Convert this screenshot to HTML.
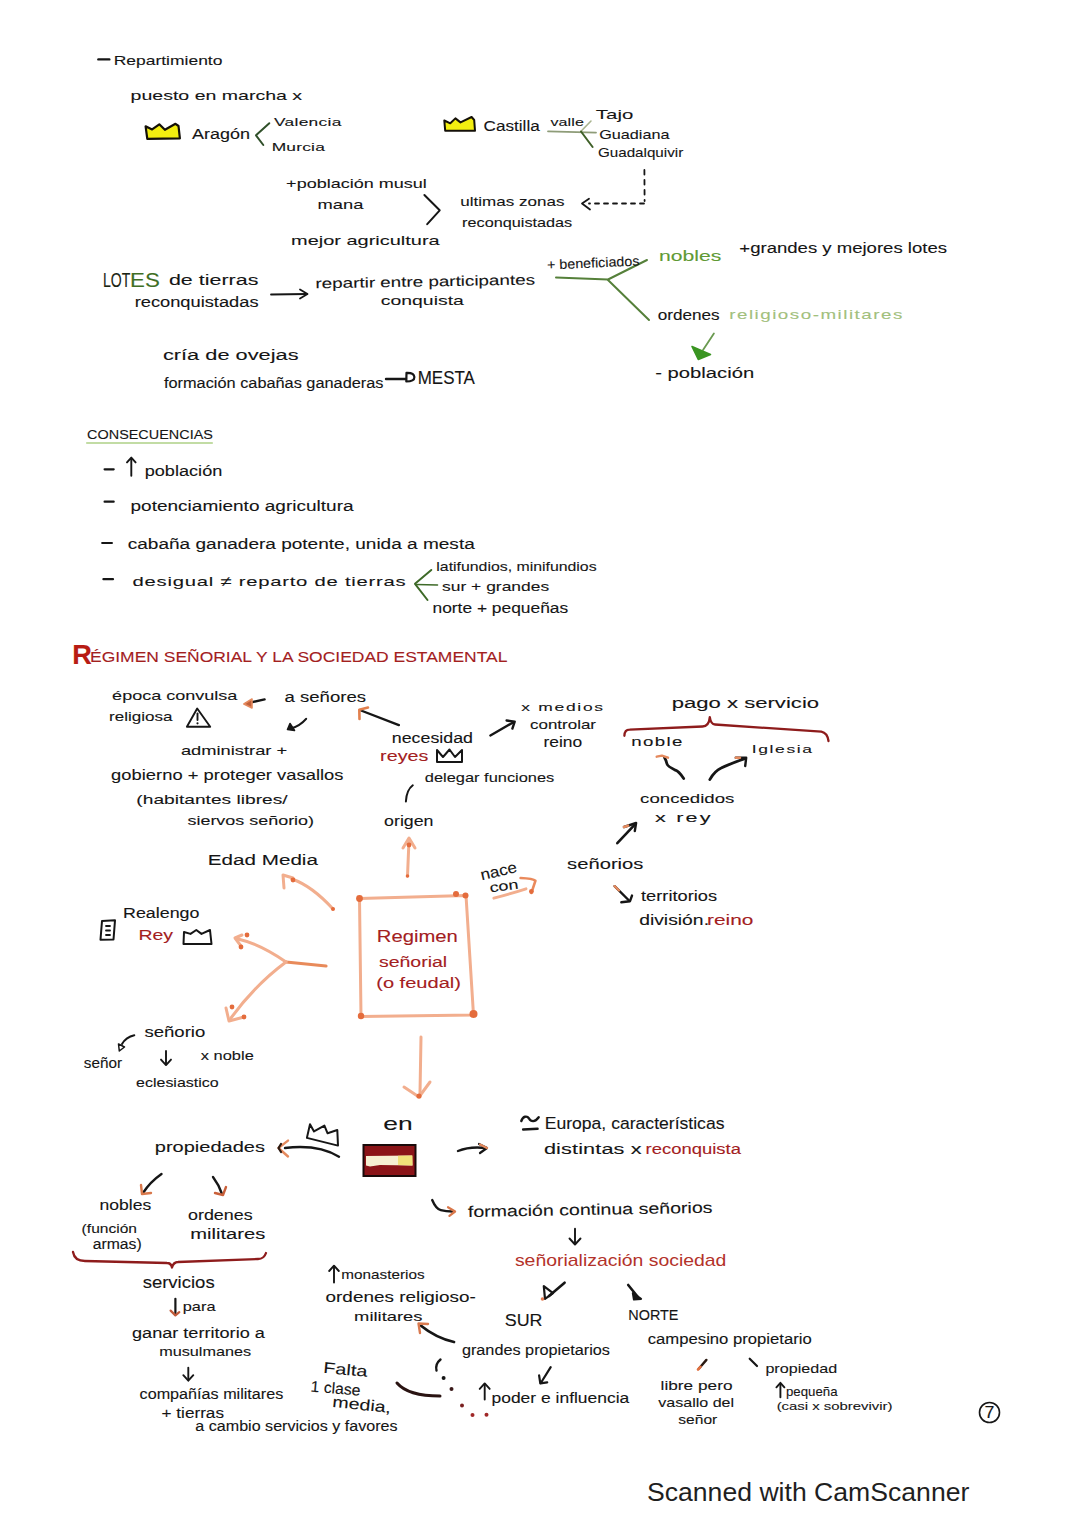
<!DOCTYPE html>
<html><head><meta charset="utf-8"><title>Notas</title>
<style>
html,body{margin:0;padding:0;background:#fff;}
body{width:1080px;height:1528px;position:relative;overflow:hidden;font-family:"Liberation Sans", sans-serif;}
.t{position:absolute;left:0;top:0;font-size:40px;line-height:1;white-space:pre;transform-origin:0 0;}
.cs{position:absolute;left:648px;top:1476px;font-size:27.5px;color:#222;white-space:pre;line-height:1;}
svg{position:absolute;left:0;top:0;}
</style></head><body>
<svg width="1080" height="1528" viewBox="0 0 1080 1528">
<path d="M145.6,126.3 L152.1,129.4 L159.3,124.3 L164.9,129.8 L175.5,123.8 L178.5,126 L179.9,138.4 L147.3,138.8 Z" stroke="#141008" stroke-width="2.2" fill="#f3ee10" stroke-linecap="round" stroke-linejoin="round" />
<path d="M444.3,120.5 L450.3,123.3 L455.4,118.4 L460.5,122.4 L471.6,117 L474.2,120 L475,130.7 L445.2,130.7 Z" stroke="#141008" stroke-width="2.0" fill="#f3ee10" stroke-linecap="round" stroke-linejoin="round" />
<path d="M269.3,123.2 L256.0,135.3 L263.3,145.0" stroke="#30502a" stroke-width="2" fill="none" stroke-linecap="round" stroke-linejoin="round" />
<path d="M548.0,131.3 L596.0,132.6" stroke="#8e9c78" stroke-width="1.8" fill="none" stroke-linecap="round" stroke-linejoin="round" />
<path d="M581.0,131.2 L591.0,121.0" stroke="#a9b48f" stroke-width="1.6" fill="none" stroke-linecap="round" stroke-linejoin="round" />
<path d="M581.0,131.5 L592.6,147.0" stroke="#3f6028" stroke-width="2" fill="none" stroke-linecap="round" stroke-linejoin="round" />
<path d="M644.4,170.0 L644.6,201.0" stroke="#161616" stroke-width="1.8" fill="none" stroke-linecap="round" stroke-linejoin="round" stroke-dasharray="4.5 5.5"/>
<path d="M644.0,203.5 L589.0,203.5" stroke="#161616" stroke-width="1.8" fill="none" stroke-linecap="round" stroke-linejoin="round" stroke-dasharray="4 5"/>
<path d="M589.0,198.7 L582.0,203.5 L590.0,209.5" stroke="#161616" stroke-width="1.8" fill="none" stroke-linecap="round" stroke-linejoin="round" />
<path d="M424.4,195.0 L439.7,210.3 L427.2,224.2" stroke="#161616" stroke-width="2" fill="none" stroke-linecap="round" stroke-linejoin="round" />
<path d="M271.0,294.5 L307.0,294.0" stroke="#161616" stroke-width="1.8" fill="none" stroke-linecap="round" stroke-linejoin="round" />
<path d="M300.0,289.5 L307.5,294.0 L300.0,298.5" stroke="#161616" stroke-width="1.8" fill="none" stroke-linecap="round" stroke-linejoin="round" />
<path d="M556.0,277.5 L608.0,279.5 L647.0,260.0" stroke="#55803a" stroke-width="2" fill="none" stroke-linecap="round" stroke-linejoin="round" />
<path d="M608.0,280.0 L649.0,320.0" stroke="#55803a" stroke-width="2" fill="none" stroke-linecap="round" stroke-linejoin="round" />
<path d="M713.9,333.4 L703.0,350.0" stroke="#6a9a50" stroke-width="1.8" fill="none" stroke-linecap="round" stroke-linejoin="round" />
<path d="M692,346.5 L710.5,354.5 L698.3,359.4 Z" stroke="#3a9522" stroke-width="1.6" fill="#3a9522" stroke-linecap="round" stroke-linejoin="round" />
<path d="M87.0,443.0 L212.0,443.0" stroke="#c2dca4" stroke-width="2.2" fill="none" stroke-linecap="round" stroke-linejoin="round" />
<path d="M431.3,570.0 L415.0,583.8 L427.5,600.0" stroke="#3e6a28" stroke-width="2" fill="none" stroke-linecap="round" stroke-linejoin="round" />
<path d="M416.0,584.5 L437.5,585.0" stroke="#3e6a28" stroke-width="1.6" fill="none" stroke-linecap="round" stroke-linejoin="round" />
<path d="M197.2,708.5 L210.2,726.7 L186.9,726.7 Z" stroke="#161616" stroke-width="1.9" fill="none" stroke-linecap="round" stroke-linejoin="round" />
<path d="M197.5,713.5 L197.5,720.0" stroke="#161616" stroke-width="1.9" fill="none" stroke-linecap="round" stroke-linejoin="round" />
<circle cx="197.5" cy="723.3" r="1.1" fill="#161616"/>
<path d="M264.6,699.4 L246.0,703.6" stroke="#161616" stroke-width="2.4" fill="none" stroke-linecap="round" stroke-linejoin="round" />
<path d="M252,699 L243.9,704 L252,708 Z" stroke="#e58a5e" stroke-width="1.6" fill="#c0603a" stroke-linecap="round" stroke-linejoin="round" />
<path d="M306.1,718.9 Q300,726 291,728.5" stroke="#161616" stroke-width="2.2" fill="none" stroke-linecap="round" stroke-linejoin="round" />
<path d="M287.5,729.5 L290,723.5 L294.5,730.5 Z" stroke="#161616" stroke-width="1.6" fill="#161616" stroke-linecap="round" stroke-linejoin="round" />
<path d="M398.9,725.1 L361.0,710.5" stroke="#161616" stroke-width="2.4" fill="none" stroke-linecap="round" stroke-linejoin="round" />
<path d="M359.5,719.0 L359.3,709.8 L368.0,707.5" stroke="#e2804e" stroke-width="2.6" fill="none" stroke-linecap="round" stroke-linejoin="round" />
<path d="M490.4,735.5 L513.5,722.2" stroke="#161616" stroke-width="2.4" fill="none" stroke-linecap="round" stroke-linejoin="round" />
<path d="M506.6,720.5 L514.7,721.6 L512.4,728.6" stroke="#161616" stroke-width="2.4" fill="none" stroke-linecap="round" stroke-linejoin="round" />
<path d="M412.8,785.3 Q406.5,790 405.9,801.5" stroke="#161616" stroke-width="2" fill="none" stroke-linecap="round" stroke-linejoin="round" />
<path d="M624.4,735.8 C624.5,731.5 626.5,729.6 629.6,729.6 L702.5,726.5 C707,726.3 709.3,723 709.8,717.1 C710.5,722 711.5,724.4 715,724.5 L821.3,731.7 C825.5,732.5 827.8,736 828.5,741" stroke="#8e1c1c" stroke-width="2.3" fill="none" stroke-linecap="round" stroke-linejoin="round" />
<path d="M683.7,778.5 C680,773 678,771 675.4,770.2 C671,768 667.5,766 667,764 C666.5,762 666,760 664.5,757.5" stroke="#161616" stroke-width="2.8" fill="none" stroke-linecap="round" stroke-linejoin="round" />
<path d="M656.7,756.7 L661.9,755.6 L668.0,757.7" stroke="#e58a5e" stroke-width="2.4" fill="none" stroke-linecap="round" stroke-linejoin="round" />
<path d="M709.8,779.6 C713,774 716,770.5 721.2,768.1 C729,764 738,761 745.5,758.5" stroke="#161616" stroke-width="2.8" fill="none" stroke-linecap="round" stroke-linejoin="round" />
<path d="M735.8,757.7 L746.2,757.7 L745.2,766.0" stroke="#161616" stroke-width="2.4" fill="none" stroke-linecap="round" stroke-linejoin="round" />
<path d="M735.8,757.7 L740.0,757.7" stroke="#e58a5e" stroke-width="2.4" fill="none" stroke-linecap="round" stroke-linejoin="round" />
<path d="M617.3,843.2 L635.5,823.8" stroke="#161616" stroke-width="2.6" fill="none" stroke-linecap="round" stroke-linejoin="round" />
<path d="M624.0,827.0 L636.1,823.0 L634.8,831.0" stroke="#161616" stroke-width="2.4" fill="none" stroke-linecap="round" stroke-linejoin="round" />
<path d="M624.0,827.0 L628.0,825.7" stroke="#e58a5e" stroke-width="2.6" fill="none" stroke-linecap="round" stroke-linejoin="round" />
<path d="M493.8,898.2 Q510,894 526,888.8" stroke="#f2ae8e" stroke-width="2.8" fill="none" stroke-linecap="round" stroke-linejoin="round" />
<path d="M520.6,878 Q533,878.5 535.4,880.8 L531.4,892.9" stroke="#ea8a5c" stroke-width="2.6" fill="none" stroke-linecap="round" stroke-linejoin="round" />
<circle cx="531.4" cy="891.5" r="2.4" fill="#e46c3c"/>
<path d="M614.6,886.2 L629.0,900.5" stroke="#161616" stroke-width="2.4" fill="none" stroke-linecap="round" stroke-linejoin="round" />
<path d="M621.3,902.3 L630.0,901.2 L632.0,895.6" stroke="#161616" stroke-width="2.4" fill="none" stroke-linecap="round" stroke-linejoin="round" />
<path d="M614.6,886.2 L619.0,890.5" stroke="#e58a5e" stroke-width="2.4" fill="none" stroke-linecap="round" stroke-linejoin="round" />
<path d="M359.5,898.5 L466,895.5 L473.5,1015 L361,1016.5 Z" stroke="#f2ae8e" stroke-width="3" fill="none" stroke-linecap="round" stroke-linejoin="round" />
<circle cx="359.5" cy="898.5" r="3.4" fill="#e46c3c"/>
<circle cx="456" cy="894" r="3" fill="#e46c3c"/>
<circle cx="465.5" cy="895.5" r="3" fill="#e46c3c"/>
<circle cx="473.5" cy="1014" r="4" fill="#e46c3c"/>
<circle cx="361" cy="1016" r="3.2" fill="#e46c3c"/>
<path d="M407.5,876.0 L409.0,840.0" stroke="#f2ae8e" stroke-width="3" fill="none" stroke-linecap="round" stroke-linejoin="round" />
<path d="M403.0,848.0 L409.0,838.0 L415.0,848.0" stroke="#f2ae8e" stroke-width="3" fill="none" stroke-linecap="round" stroke-linejoin="round" />
<circle cx="409" cy="845" r="2.4" fill="#e46c3c"/>
<circle cx="407.5" cy="876" r="1.8" fill="#e46c3c"/>
<path d="M333,909 Q312,886 292,879" stroke="#f2ae8e" stroke-width="3" fill="none" stroke-linecap="round" stroke-linejoin="round" />
<path d="M284.0,888.0 L283.0,875.0 L293.0,878.0" stroke="#f2ae8e" stroke-width="3" fill="none" stroke-linecap="round" stroke-linejoin="round" />
<circle cx="293" cy="880" r="2.4" fill="#e46c3c"/>
<circle cx="333" cy="909" r="2" fill="#e46c3c"/>
<path d="M326.0,966.0 L286.0,962.0" stroke="#e88a5a" stroke-width="3.2" fill="none" stroke-linecap="round" stroke-linejoin="round" />
<path d="M286,962 Q260,944 238,939" stroke="#f2ae8e" stroke-width="3" fill="none" stroke-linecap="round" stroke-linejoin="round" />
<path d="M286,962 Q255,985 231,1018" stroke="#f2ae8e" stroke-width="3" fill="none" stroke-linecap="round" stroke-linejoin="round" />
<path d="M242.0,935.0 L235.0,938.0 L241.0,946.0" stroke="#f2ae8e" stroke-width="3" fill="none" stroke-linecap="round" stroke-linejoin="round" />
<circle cx="241" cy="947" r="2.4" fill="#e46c3c"/>
<circle cx="247" cy="935" r="2.4" fill="#e46c3c"/>
<path d="M226.0,1008.0 L229.0,1021.0 L244.0,1017.0" stroke="#f2ae8e" stroke-width="3" fill="none" stroke-linecap="round" stroke-linejoin="round" />
<circle cx="244" cy="1017" r="2.4" fill="#e46c3c"/>
<circle cx="232" cy="1007" r="2.4" fill="#e46c3c"/>
<path d="M102,921 L115,920.3 L113.5,939.5 L100.5,939.7 Z" stroke="#161616" stroke-width="2" fill="none" stroke-linecap="round" stroke-linejoin="round" />
<path d="M106.0,926.0 L110.0,926.0" stroke="#161616" stroke-width="1.8" fill="none" stroke-linecap="round" stroke-linejoin="round" />
<path d="M106.0,930.5 L110.0,930.5" stroke="#161616" stroke-width="1.8" fill="none" stroke-linecap="round" stroke-linejoin="round" />
<path d="M106.0,935.0 L110.0,935.0" stroke="#161616" stroke-width="1.8" fill="none" stroke-linecap="round" stroke-linejoin="round" />
<path d="M437,762 L437,750 L443,757 L449.5,749.5 L455,757 L462,750 L462,762 Z" stroke="#161616" stroke-width="2" fill="none" stroke-linecap="round" stroke-linejoin="round" />
<path d="M183.5,944 L184,932 L190.5,933.9 L196.3,930 L201.5,933.9 L210,930 L211.5,944 Z" stroke="#161616" stroke-width="2" fill="none" stroke-linecap="round" stroke-linejoin="round" />
<path d="M306.9,1137.9 L310,1124.3 L314,1131.4 L324.4,1125.6 L327.6,1133.3 L337.3,1130 L338,1145.6 Z" stroke="#161616" stroke-width="2" fill="none" stroke-linecap="round" stroke-linejoin="round" />
<path d="M134.3,1035.2 Q126,1037 122,1044" stroke="#161616" stroke-width="2" fill="none" stroke-linecap="round" stroke-linejoin="round" />
<path d="M119.3,1051 L118.5,1044 L124.5,1047 Z" stroke="#161616" stroke-width="1.5" fill="none" stroke-linecap="round" stroke-linejoin="round" />
<path d="M421.0,1037.0 L420.0,1093.0" stroke="#f2ae8e" stroke-width="3" fill="none" stroke-linecap="round" stroke-linejoin="round" />
<path d="M404.0,1087.0 L419.0,1097.0 L430.0,1082.0" stroke="#f2ae8e" stroke-width="3" fill="none" stroke-linecap="round" stroke-linejoin="round" />
<circle cx="419" cy="1096" r="2.6" fill="#e46c3c"/>
<rect x="363.5" y="1145" width="52" height="31" fill="#8b1418" stroke="#1a0a0a" stroke-width="2"/>
<path d="M366,1156 L412,1155.5 L412.5,1165.5 L380,1165 L370,1166.5 L366,1165.5 Z" fill="#f6f0d2"/>
<path d="M398,1155.7 L412.5,1155.5 L412.5,1165.5 L398,1165 Z" fill="#f1e27a"/>
<path d="M339,1156.7 Q318,1144 285,1148" stroke="#161616" stroke-width="2.4" fill="none" stroke-linecap="round" stroke-linejoin="round" />
<path d="M288.0,1140.6 L278.5,1148.0 L288.0,1156.5" stroke="#e58a5e" stroke-width="2.4" fill="none" stroke-linecap="round" stroke-linejoin="round" />
<path d="M281.0,1144.0 L278.5,1148.0 L281.0,1152.0" stroke="#2a1a12" stroke-width="2.2" fill="none" stroke-linecap="round" stroke-linejoin="round" />
<path d="M458,1151 Q470,1146 486,1148" stroke="#161616" stroke-width="2.4" fill="none" stroke-linecap="round" stroke-linejoin="round" />
<path d="M479.0,1144.0 L487.0,1148.0 L480.0,1153.0" stroke="#161616" stroke-width="2.2" fill="none" stroke-linecap="round" stroke-linejoin="round" />
<path d="M480.0,1144.5 L487.0,1148.0" stroke="#e58a5e" stroke-width="2.2" fill="none" stroke-linecap="round" stroke-linejoin="round" />
<path d="M161.5,1174 Q150,1182 143,1193" stroke="#161616" stroke-width="2.4" fill="none" stroke-linecap="round" stroke-linejoin="round" />
<path d="M141.0,1185.0 L142.0,1194.0 L151.0,1193.0" stroke="#d9774a" stroke-width="2.4" fill="none" stroke-linecap="round" stroke-linejoin="round" />
<path d="M213,1177 Q219,1185 222,1194" stroke="#161616" stroke-width="2.4" fill="none" stroke-linecap="round" stroke-linejoin="round" />
<path d="M215.0,1193.0 L223.0,1195.0 L226.0,1187.0" stroke="#c9603a" stroke-width="2.4" fill="none" stroke-linecap="round" stroke-linejoin="round" />
<path d="M73,1252 C74,1258 78,1261 85,1261 L167,1263 C170,1263 171.5,1265 172,1267.5 C173,1264 175,1262 178,1262 L258,1259 C263,1259 265,1256 266,1253" stroke="#8e1c1c" stroke-width="2.3" fill="none" stroke-linecap="round" stroke-linejoin="round" />
<path d="M175.4,1298.8 L175.4,1314.5" stroke="#161616" stroke-width="2.2" fill="none" stroke-linecap="round" stroke-linejoin="round" />
<path d="M170.6,1310.6 L175.4,1315.4 L179.3,1312.2" stroke="#c05a3a" stroke-width="2.2" fill="none" stroke-linecap="round" stroke-linejoin="round" />
<path d="M454,1342 Q436,1338 420,1325" stroke="#161616" stroke-width="2.8" fill="none" stroke-linecap="round" stroke-linejoin="round" />
<path d="M420.0,1333.0 L418.5,1323.5 L428.0,1324.0" stroke="#d97a50" stroke-width="2.4" fill="none" stroke-linecap="round" stroke-linejoin="round" />
<path d="M397,1383 Q408,1396 440,1396" stroke="#2a1412" stroke-width="3" fill="none" stroke-linecap="round" stroke-linejoin="round" />
<path d="M440.5,1359.5 Q435,1364 436.5,1370.5" stroke="#161616" stroke-width="2.4" fill="none" stroke-linecap="round" stroke-linejoin="round" />
<circle cx="443.6" cy="1378" r="2.0" fill="#161616"/>
<circle cx="451.5" cy="1389" r="2.0" fill="#3a1a1a"/>
<circle cx="462" cy="1405.5" r="2.0" fill="#7a2020"/>
<circle cx="472.5" cy="1415" r="2.0" fill="#a02828"/>
<circle cx="486.5" cy="1414.7" r="2.0" fill="#a02828"/>
<path d="M432.2,1200 Q436,1209 440.8,1210.1 Q446,1211.5 452.3,1211.5" stroke="#161616" stroke-width="2.4" fill="none" stroke-linecap="round" stroke-linejoin="round" />
<path d="M448.0,1207.2 L455.1,1211.5 L449.4,1215.8" stroke="#d9774a" stroke-width="2.2" fill="none" stroke-linecap="round" stroke-linejoin="round" />
<path d="M564.6,1282.7 L549.0,1296.0" stroke="#161616" stroke-width="2.6" fill="none" stroke-linecap="round" stroke-linejoin="round" />
<path d="M543.8,1286.2 L545,1298.9 L553,1293.1 Z" stroke="#161616" stroke-width="2.2" fill="none" stroke-linecap="round" stroke-linejoin="round" />
<circle cx="542.5" cy="1299" r="1.8" fill="#e07a50"/>
<path d="M628.2,1285.0 L637.5,1296.5" stroke="#161616" stroke-width="2.6" fill="none" stroke-linecap="round" stroke-linejoin="round" />
<path d="M632.9,1293.1 L641,1298.9 L634,1299.5 Z" stroke="#161616" stroke-width="2.2" fill="#161616" stroke-linecap="round" stroke-linejoin="round" />
<path d="M550.7,1367.2 L540.8,1383.0" stroke="#161616" stroke-width="2.2" fill="none" stroke-linecap="round" stroke-linejoin="round" />
<path d="M539.1,1375.3 L540.3,1383.4 L547.2,1382.3" stroke="#161616" stroke-width="2.2" fill="none" stroke-linecap="round" stroke-linejoin="round" />
<path d="M706.4,1359.9 L699.0,1368.5" stroke="#2a1a12" stroke-width="2.4" fill="none" stroke-linecap="round" stroke-linejoin="round" />
<path d="M700.5,1366.8 L698.0,1369.5" stroke="#e07040" stroke-width="2.6" fill="none" stroke-linecap="round" stroke-linejoin="round" />
<path d="M749.7,1358.7 L757.0,1366.0" stroke="#161616" stroke-width="2.2" fill="none" stroke-linecap="round" stroke-linejoin="round" />
<circle cx="989.5" cy="1412.5" r="10" fill="none" stroke="#161616" stroke-width="1.6"/>
<path d="M98.4,59.4 L109.3,59.4" stroke="#161616" stroke-width="2.4" fill="none" stroke-linecap="round" stroke-linejoin="round" />
<path d="M104.6,469.3 L113.7,469.3" stroke="#161616" stroke-width="2.2" fill="none" stroke-linecap="round" stroke-linejoin="round" />
<path d="M104.6,501.7 L113.7,501.7" stroke="#161616" stroke-width="2.2" fill="none" stroke-linecap="round" stroke-linejoin="round" />
<path d="M102.2,543.0 L111.9,543.0" stroke="#161616" stroke-width="2.2" fill="none" stroke-linecap="round" stroke-linejoin="round" />
<path d="M103.4,579.2 L113.0,579.2" stroke="#161616" stroke-width="2.2" fill="none" stroke-linecap="round" stroke-linejoin="round" />
<path d="M386.0,379.0 L406.0,379.0" stroke="#161616" stroke-width="2.4" fill="none" stroke-linecap="round" stroke-linejoin="round" />
<path d="M406.5,372.8 L406.3,381.5 Q414.5,381.5 414.4,377 Q414,372.5 406.5,372.8 Z" stroke="#161616" stroke-width="2.2" fill="none" stroke-linecap="round" stroke-linejoin="round" />
<path d="M131.3,458.6 L131.3,475.7" stroke="#161616" stroke-width="1.9" fill="none" stroke-linecap="round" stroke-linejoin="round" />
<path d="M127.0,462.4 L131.3,457.6 L135.6,462.4" stroke="#161616" stroke-width="1.9" fill="none" stroke-linecap="round" stroke-linejoin="round" />
<path d="M166.0,1051.0 L166.0,1064.1" stroke="#161616" stroke-width="1.9" fill="none" stroke-linecap="round" stroke-linejoin="round" />
<path d="M161.0,1059.6 L166.0,1065.1 L171.0,1059.6" stroke="#161616" stroke-width="1.9" fill="none" stroke-linecap="round" stroke-linejoin="round" />
<path d="M188.3,1367.8 L188.3,1379.7" stroke="#161616" stroke-width="1.9" fill="none" stroke-linecap="round" stroke-linejoin="round" />
<path d="M183.3,1375.2 L188.3,1380.7 L193.3,1375.2" stroke="#161616" stroke-width="1.9" fill="none" stroke-linecap="round" stroke-linejoin="round" />
<path d="M334.0,1266.7 L334.0,1282.5" stroke="#161616" stroke-width="1.9" fill="none" stroke-linecap="round" stroke-linejoin="round" />
<path d="M329.2,1271.0 L334.0,1265.7 L338.8,1271.0" stroke="#161616" stroke-width="1.9" fill="none" stroke-linecap="round" stroke-linejoin="round" />
<path d="M780.4,1383.8 L780.4,1397.2" stroke="#161616" stroke-width="1.9" fill="none" stroke-linecap="round" stroke-linejoin="round" />
<path d="M776.4,1387.3 L780.4,1382.8 L784.4,1387.3" stroke="#161616" stroke-width="1.9" fill="none" stroke-linecap="round" stroke-linejoin="round" />
<path d="M484.7,1384.4 L484.7,1399.6" stroke="#161616" stroke-width="1.9" fill="none" stroke-linecap="round" stroke-linejoin="round" />
<path d="M479.7,1388.9 L484.7,1383.4 L489.7,1388.9" stroke="#161616" stroke-width="1.9" fill="none" stroke-linecap="round" stroke-linejoin="round" />
<path d="M575.0,1228.7 L575.0,1243.5" stroke="#161616" stroke-width="1.9" fill="none" stroke-linecap="round" stroke-linejoin="round" />
<path d="M569.5,1238.5 L575.0,1244.5 L580.5,1238.5" stroke="#161616" stroke-width="1.9" fill="none" stroke-linecap="round" stroke-linejoin="round" />
<path d="M521.3,1121 C523,1116 527,1115.5 529,1118.5 C531,1122 535,1122.5 538.7,1117.3" stroke="#161616" stroke-width="2.4" fill="none" stroke-linecap="round" stroke-linejoin="round" />
<path d="M523.2,1129.5 L537.5,1128.8" stroke="#161616" stroke-width="2.6" fill="none" stroke-linecap="round" stroke-linejoin="round" />
</svg>
<div class="t" style="color:#151515;letter-spacing:0.00px;-webkit-text-stroke:0.31px #151515;transform:matrix(0.4367,0.0000,0.0000,0.3372,113.69,53.04)">Repartimiento</div>
<div class="t" style="color:#151515;letter-spacing:0.00px;-webkit-text-stroke:0.29px #151515;transform:matrix(0.4885,0.0000,0.0000,0.3372,130.53,88.94)">puesto en marcha x</div>
<div class="t" style="color:#151515;letter-spacing:0.00px;-webkit-text-stroke:0.29px #151515;transform:matrix(0.4488,0.0000,0.0000,0.3854,192.00,125.90)">Aragón</div>
<div class="t" style="color:#151515;letter-spacing:0.70px;-webkit-text-stroke:0.33px #151515;transform:matrix(0.4333,0.0000,0.0000,0.2890,274.00,115.77)">Valencia</div>
<div class="t" style="color:#151515;letter-spacing:0.45px;-webkit-text-stroke:0.33px #151515;transform:matrix(0.4345,0.0000,0.0000,0.2890,271.70,141.17)">Murcia</div>
<div class="t" style="color:#151515;letter-spacing:0.00px;-webkit-text-stroke:0.29px #151515;transform:matrix(0.4287,0.0000,0.0000,0.3854,483.54,117.70)">Castilla</div>
<div class="t" style="color:#151515;letter-spacing:0.20px;-webkit-text-stroke:0.36px #151515;transform:matrix(0.4012,0.0000,0.0000,0.2649,550.50,117.49)">valle</div>
<div class="t" style="color:#151515;letter-spacing:0.12px;-webkit-text-stroke:0.28px #151515;transform:matrix(0.5085,0.0000,0.0000,0.3372,595.79,107.84)">Tajo</div>
<div class="t" style="color:#151515;letter-spacing:0.00px;-webkit-text-stroke:0.32px #151515;transform:matrix(0.4052,0.0000,0.0000,0.3372,599.19,127.04)">Guadiana</div>
<div class="t" style="color:#151515;letter-spacing:0.00px;-webkit-text-stroke:0.33px #151515;transform:matrix(0.3797,0.0000,0.0000,0.3372,597.94,145.14)">Guadalquivir</div>
<div class="t" style="color:#151515;letter-spacing:0.00px;-webkit-text-stroke:0.30px #151515;transform:matrix(0.4506,0.0000,0.0000,0.3372,286.10,176.54)">+población musul</div>
<div class="t" style="color:#151515;letter-spacing:0.00px;-webkit-text-stroke:0.30px #151515;transform:matrix(0.4577,0.0000,0.0000,0.3372,317.53,197.44)">mana</div>
<div class="t" style="color:#151515;letter-spacing:0.00px;-webkit-text-stroke:0.31px #151515;transform:matrix(0.4262,0.0000,0.0000,0.3372,460.22,194.44)">ultimas zonas</div>
<div class="t" style="color:#151515;letter-spacing:0.00px;-webkit-text-stroke:0.32px #151515;transform:matrix(0.4060,0.0000,0.0000,0.3372,462.08,215.54)">reconquistadas</div>
<div class="t" style="color:#151515;letter-spacing:0.00px;-webkit-text-stroke:0.29px #151515;transform:matrix(0.4990,0.0000,0.0000,0.3372,291.00,233.54)">mejor agricultura</div>
<div class="t" style="color:#1a2412;letter-spacing:0.00px;-webkit-text-stroke:0.29px #1a2412;transform:matrix(0.3514,0.0000,0.0000,0.4888,102.95,270.38)">LOT</div>
<div class="t" style="color:#3f6e24;letter-spacing:0.00px;-webkit-text-stroke:0.23px #3f6e24;transform:matrix(0.5571,0.0000,0.0000,0.4888,130.03,270.38)">ES</div>
<div class="t" style="color:#151515;letter-spacing:0.00px;-webkit-text-stroke:0.26px #151515;transform:matrix(0.5366,0.0000,0.0000,0.3854,168.93,272.20)">de tierras</div>
<div class="t" style="color:#151515;letter-spacing:0.00px;-webkit-text-stroke:0.29px #151515;transform:matrix(0.4569,0.0000,0.0000,0.3613,134.63,294.72)">reconquistadas</div>
<div class="t" style="color:#151515;letter-spacing:0.00px;-webkit-text-stroke:0.29px #151515;transform:matrix(0.4701,-0.0082,0.0061,0.3516,315.38,276.37)">repartir entre participantes</div>
<div class="t" style="color:#151515;letter-spacing:0.00px;-webkit-text-stroke:0.29px #151515;transform:matrix(0.4846,0.0000,0.0000,0.3372,380.83,293.84)">conquista</div>
<div class="t" style="color:#151515;letter-spacing:0.00px;-webkit-text-stroke:0.35px #151515;transform:matrix(0.3559,-0.0155,0.0147,0.3369,546.79,258.08)">+ beneficiados</div>
<div class="t" style="color:#5f9a34;letter-spacing:0.00px;-webkit-text-stroke:0.27px #5f9a34;transform:matrix(0.5289,0.0000,0.0000,0.3613,659.01,248.92)">nobles</div>
<div class="t" style="color:#151515;letter-spacing:0.00px;-webkit-text-stroke:0.29px #151515;transform:matrix(0.4634,0.0000,0.0000,0.3613,739.37,241.12)">+grandes y mejores lotes</div>
<div class="t" style="color:#151515;letter-spacing:0.00px;-webkit-text-stroke:0.30px #151515;transform:matrix(0.4284,0.0000,0.0000,0.3613,657.74,307.22)">ordenes</div>
<div class="t" style="color:#a2c07c;letter-spacing:3.18px;-webkit-text-stroke:0.31px #a2c07c;transform:matrix(0.4701,0.0000,0.0000,0.3131,729.19,308.85)">religioso-militares</div>
<div class="t" style="color:#151515;letter-spacing:0.00px;-webkit-text-stroke:0.27px #151515;transform:matrix(0.5058,0.0000,0.0000,0.3854,655.19,364.40)">- población</div>
<div class="t" style="color:#151515;letter-spacing:0.00px;-webkit-text-stroke:0.26px #151515;transform:matrix(0.5447,0.0000,0.0000,0.3854,162.91,346.90)">cría de ovejas</div>
<div class="t" style="color:#151515;letter-spacing:0.00px;-webkit-text-stroke:0.30px #151515;transform:matrix(0.4078,0.0000,0.0000,0.3854,164.00,375.10)">formación cabañas ganaderas</div>
<div class="t" style="color:#151515;letter-spacing:0.00px;-webkit-text-stroke:0.28px #151515;transform:matrix(0.4242,0.0000,0.0000,0.4469,417.73,368.80)">MESTA</div>
<div class="t" style="color:#151515;letter-spacing:0.00px;-webkit-text-stroke:0.36px #151515;transform:matrix(0.3606,0.0000,0.0000,0.3142,87.08,428.72)">CONSECUENCIAS</div>
<div class="t" style="color:#151515;letter-spacing:0.00px;-webkit-text-stroke:0.29px #151515;transform:matrix(0.4536,0.0000,0.0000,0.3854,144.64,462.60)">población</div>
<div class="t" style="color:#151515;letter-spacing:0.00px;-webkit-text-stroke:0.28px #151515;transform:matrix(0.4755,0.0000,0.0000,0.3854,130.47,497.60)">potenciamiento agricultura</div>
<div class="t" style="color:#151515;letter-spacing:0.00px;-webkit-text-stroke:0.29px #151515;transform:matrix(0.4757,0.0000,0.0000,0.3613,127.75,536.22)">cabaña ganadera potente, unida a mesta</div>
<div class="t" style="color:#151515;letter-spacing:1.49px;-webkit-text-stroke:0.28px #151515;transform:matrix(0.5065,0.0000,0.0000,0.3372,132.49,574.94)">desigual ≠ reparto de tierras</div>
<div class="t" style="color:#151515;letter-spacing:0.00px;-webkit-text-stroke:0.34px #151515;transform:matrix(0.3960,0.0000,0.0000,0.3131,436.31,560.65)">latifundios, minifundios</div>
<div class="t" style="color:#151515;letter-spacing:0.00px;-webkit-text-stroke:0.31px #151515;transform:matrix(0.4357,0.0000,0.0000,0.3372,442.06,579.84)">sur + grandes</div>
<div class="t" style="color:#151515;letter-spacing:0.00px;-webkit-text-stroke:0.30px #151515;transform:matrix(0.4341,0.0000,0.0000,0.3613,432.50,600.22)">norte + pequeñas</div>
<div class="t" style="color:#b81c14;letter-spacing:0.00px;-webkit-text-stroke:0.18px #b81c14;font-weight:bold;transform:matrix(0.6800,0.0000,0.0000,0.6857,72.26,640.29)">R</div>
<div class="t" style="color:#a3201e;letter-spacing:0.00px;-webkit-text-stroke:0.29px #a3201e;transform:matrix(0.4367,0.0000,0.0000,0.3841,89.99,649.44)">ÉGIMEN SEÑORIAL Y LA SOCIEDAD ESTAMENTAL</div>
<div class="t" style="color:#151515;letter-spacing:0.00px;-webkit-text-stroke:0.30px #151515;transform:matrix(0.4507,0.0000,0.0000,0.3372,112.10,688.74)">época convulsa</div>
<div class="t" style="color:#151515;letter-spacing:0.00px;-webkit-text-stroke:0.32px #151515;transform:matrix(0.4260,0.0000,0.0000,0.3131,109.12,710.85)">religiosa</div>
<div class="t" style="color:#151515;letter-spacing:0.00px;-webkit-text-stroke:0.28px #151515;transform:matrix(0.4642,0.0000,0.0000,0.3854,284.47,688.90)">a señores</div>
<div class="t" style="color:#151515;letter-spacing:0.00px;-webkit-text-stroke:0.31px #151515;transform:matrix(0.4576,0.0000,0.0000,0.3131,180.88,744.85)">administrar +</div>
<div class="t" style="color:#151515;letter-spacing:0.00px;-webkit-text-stroke:0.28px #151515;transform:matrix(0.4594,0.0000,0.0000,0.3854,111.08,766.40)">gobierno + proteger vasallos</div>
<div class="t" style="color:#151515;letter-spacing:0.00px;-webkit-text-stroke:0.29px #151515;transform:matrix(0.4793,0.0000,0.0000,0.3372,136.34,792.14)">(habitantes libres/</div>
<div class="t" style="color:#151515;letter-spacing:0.00px;-webkit-text-stroke:0.31px #151515;transform:matrix(0.4484,0.0000,0.0000,0.3372,187.45,813.84)">siervos señorio)</div>
<div class="t" style="color:#151515;letter-spacing:0.00px;-webkit-text-stroke:0.29px #151515;transform:matrix(0.4452,0.0000,0.0000,0.3854,391.76,729.40)">necesidad</div>
<div class="t" style="color:#a3201e;letter-spacing:0.00px;-webkit-text-stroke:0.27px #a3201e;transform:matrix(0.4926,0.0000,0.0000,0.3854,380.12,747.90)">reyes</div>
<div class="t" style="color:#151515;letter-spacing:0.00px;-webkit-text-stroke:0.32px #151515;transform:matrix(0.4102,0.0000,0.0000,0.3372,424.78,770.34)">delegar funciones</div>
<div class="t" style="color:#151515;letter-spacing:0.00px;-webkit-text-stroke:0.29px #151515;transform:matrix(0.4439,0.0000,0.0000,0.3854,384.11,812.70)">origen</div>
<div class="t" style="color:#151515;letter-spacing:4.00px;-webkit-text-stroke:0.33px #151515;transform:matrix(0.4355,0.0000,0.0000,0.2890,521.16,701.37)">x medios</div>
<div class="t" style="color:#151515;letter-spacing:0.00px;-webkit-text-stroke:0.32px #151515;transform:matrix(0.4235,0.0000,0.0000,0.3372,530.05,717.14)">controlar</div>
<div class="t" style="color:#151515;letter-spacing:0.00px;-webkit-text-stroke:0.29px #151515;transform:matrix(0.4353,0.0000,0.0000,0.3854,543.49,733.90)">reino</div>
<div class="t" style="color:#151515;letter-spacing:0.00px;-webkit-text-stroke:0.26px #151515;transform:matrix(0.5527,0.0000,0.0000,0.3854,671.64,694.60)">pago x servicio</div>
<div class="t" style="color:#151515;letter-spacing:2.83px;-webkit-text-stroke:0.31px #151515;transform:matrix(0.4667,0.0000,0.0000,0.3131,631.30,735.65)">noble</div>
<div class="t" style="color:#151515;letter-spacing:3.78px;-webkit-text-stroke:0.33px #151515;transform:matrix(0.4358,0.0000,0.0000,0.2890,751.76,743.67)">Iglesia</div>
<div class="t" style="color:#151515;letter-spacing:0.00px;-webkit-text-stroke:0.30px #151515;transform:matrix(0.4661,0.0000,0.0000,0.3372,640.07,791.04)">concedidos</div>
<div class="t" style="color:#151515;letter-spacing:4.00px;-webkit-text-stroke:0.27px #151515;transform:matrix(0.5412,0.0000,0.0000,0.3372,655.06,810.84)">x rey</div>
<div class="t" style="color:#151515;letter-spacing:0.00px;-webkit-text-stroke:0.27px #151515;transform:matrix(0.5047,0.0000,0.0000,0.3854,567.10,855.60)">señorios</div>
<div class="t" style="color:#151515;letter-spacing:0.00px;-webkit-text-stroke:0.30px #151515;transform:matrix(0.4159,-0.0960,0.0867,0.3755,478.80,867.52)">nace</div>
<div class="t" style="color:#151515;letter-spacing:0.00px;-webkit-text-stroke:0.31px #151515;transform:matrix(0.4440,-0.0624,0.0469,0.3339,488.62,881.27)">con</div>
<div class="t" style="color:#151515;letter-spacing:0.00px;-webkit-text-stroke:0.29px #151515;transform:matrix(0.4558,0.0000,0.0000,0.3854,641.04,887.80)">territorios</div>
<div class="t" style="color:#151515;letter-spacing:0.00px;-webkit-text-stroke:0.28px #151515;transform:matrix(0.4835,0.0000,0.0000,0.3854,639.13,911.90)">división.</div>
<div class="t" style="color:#a3201e;letter-spacing:0.00px;-webkit-text-stroke:0.26px #a3201e;transform:matrix(0.5212,0.0000,0.0000,0.3854,707.04,911.90)">reino</div>
<div class="t" style="color:#151515;letter-spacing:0.00px;-webkit-text-stroke:0.27px #151515;transform:matrix(0.5161,0.0000,0.0000,0.3709,207.75,851.99)">Edad Media</div>
<div class="t" style="color:#a3201e;letter-spacing:0.00px;-webkit-text-stroke:0.26px #a3201e;transform:matrix(0.5058,0.0000,0.0000,0.4335,376.78,926.96)">Regimen</div>
<div class="t" style="color:#a3201e;letter-spacing:0.00px;-webkit-text-stroke:0.29px #a3201e;transform:matrix(0.4869,0.0000,0.0000,0.3516,378.91,954.74)">señorial</div>
<div class="t" style="color:#a3201e;letter-spacing:0.00px;-webkit-text-stroke:0.27px #a3201e;transform:matrix(0.5018,0.0000,0.0000,0.3854,376.20,974.70)">(o feudal)</div>
<div class="t" style="color:#151515;letter-spacing:0.00px;-webkit-text-stroke:0.30px #151515;transform:matrix(0.4461,0.0000,0.0000,0.3613,123.06,905.72)">Realengo</div>
<div class="t" style="color:#a3201e;letter-spacing:0.00px;-webkit-text-stroke:0.28px #a3201e;transform:matrix(0.4868,0.0000,0.0000,0.3854,138.44,926.90)">Rey</div>
<div class="t" style="color:#151515;letter-spacing:0.00px;-webkit-text-stroke:0.28px #151515;transform:matrix(0.4636,0.0000,0.0000,0.3854,144.44,1023.90)">señorio</div>
<div class="t" style="color:#151515;letter-spacing:0.00px;-webkit-text-stroke:0.31px #151515;transform:matrix(0.3818,0.0000,0.0000,0.3854,83.82,1054.70)">señor</div>
<div class="t" style="color:#151515;letter-spacing:0.00px;-webkit-text-stroke:0.32px #151515;transform:matrix(0.4111,0.0000,0.0000,0.3372,200.79,1048.44)">x noble</div>
<div class="t" style="color:#151515;letter-spacing:0.00px;-webkit-text-stroke:0.33px #151515;transform:matrix(0.3990,0.0000,0.0000,0.3372,136.10,1075.64)">eclesiastico</div>
<div class="t" style="color:#151515;letter-spacing:0.00px;-webkit-text-stroke:0.21px #151515;transform:matrix(0.6600,0.0000,0.0000,0.4817,383.28,1113.62)">en</div>
<div class="t" style="color:#151515;letter-spacing:0.00px;-webkit-text-stroke:0.27px #151515;transform:matrix(0.5005,0.0000,0.0000,0.3854,154.80,1139.10)">propiedades</div>
<div class="t" style="color:#151515;letter-spacing:0.00px;-webkit-text-stroke:0.28px #151515;transform:matrix(0.4395,0.0000,0.0000,0.4094,544.68,1115.58)">Europa, características</div>
<div class="t" style="color:#151515;letter-spacing:0.22px;-webkit-text-stroke:0.27px #151515;transform:matrix(0.5424,0.0000,0.0000,0.3613,543.92,1141.72)">distintas x</div>
<div class="t" style="color:#a3201e;letter-spacing:0.00px;-webkit-text-stroke:0.29px #a3201e;transform:matrix(0.4608,0.0000,0.0000,0.3613,645.62,1141.72)">reconquista</div>
<div class="t" style="color:#151515;letter-spacing:0.00px;-webkit-text-stroke:0.30px #151515;transform:matrix(0.4386,0.0000,0.0000,0.3565,99.58,1198.28)">nobles</div>
<div class="t" style="color:#151515;letter-spacing:0.00px;-webkit-text-stroke:0.34px #151515;transform:matrix(0.3891,0.0000,0.0000,0.3131,81.62,1222.85)">(función</div>
<div class="t" style="color:#151515;letter-spacing:0.00px;-webkit-text-stroke:0.32px #151515;transform:matrix(0.3933,0.0000,0.0000,0.3565,92.71,1237.18)">armas)</div>
<div class="t" style="color:#151515;letter-spacing:0.00px;-webkit-text-stroke:0.30px #151515;transform:matrix(0.4468,0.0000,0.0000,0.3565,188.01,1207.48)">ordenes</div>
<div class="t" style="color:#151515;letter-spacing:0.00px;-webkit-text-stroke:0.28px #151515;transform:matrix(0.5041,0.0000,0.0000,0.3565,190.19,1226.88)">militares</div>
<div class="t" style="color:#151515;letter-spacing:0.00px;-webkit-text-stroke:0.27px #151515;transform:matrix(0.4627,0.0000,0.0000,0.4143,142.64,1273.72)">servicios</div>
<div class="t" style="color:#151515;letter-spacing:0.00px;-webkit-text-stroke:0.34px #151515;transform:matrix(0.4091,0.0000,0.0000,0.3035,182.77,1301.08)">para</div>
<div class="t" style="color:#151515;letter-spacing:0.00px;-webkit-text-stroke:0.29px #151515;transform:matrix(0.4527,0.0000,0.0000,0.3854,131.99,1325.10)">ganar territorio a</div>
<div class="t" style="color:#151515;letter-spacing:0.00px;-webkit-text-stroke:0.32px #151515;transform:matrix(0.4058,0.0000,0.0000,0.3372,159.18,1344.84)">musulmanes</div>
<div class="t" style="color:#151515;letter-spacing:0.00px;-webkit-text-stroke:0.31px #151515;transform:matrix(0.4040,0.0000,0.0000,0.3757,139.59,1386.13)">compañías militares</div>
<div class="t" style="color:#151515;letter-spacing:0.00px;-webkit-text-stroke:0.30px #151515;transform:matrix(0.4289,0.0000,0.0000,0.3709,161.54,1405.69)">+ tierras</div>
<div class="t" style="color:#151515;letter-spacing:0.00px;-webkit-text-stroke:0.31px #151515;transform:matrix(0.4026,0.0000,0.0000,0.3757,195.29,1418.53)">a cambio servicios y favores</div>
<div class="t" style="color:#151515;letter-spacing:0.00px;-webkit-text-stroke:0.35px #151515;transform:matrix(0.3818,0.0000,0.0000,0.3131,341.35,1268.75)">monasterios</div>
<div class="t" style="color:#151515;letter-spacing:0.00px;-webkit-text-stroke:0.28px #151515;transform:matrix(0.4727,0.0000,0.0000,0.3709,325.55,1289.79)">ordenes religioso-</div>
<div class="t" style="color:#151515;letter-spacing:0.00px;-webkit-text-stroke:0.30px #151515;transform:matrix(0.4586,0.0000,0.0000,0.3372,354.12,1309.24)">militares</div>
<div class="t" style="color:#151515;letter-spacing:0.00px;-webkit-text-stroke:0.27px #151515;transform:matrix(0.4946,0.0433,-0.0336,0.3839,324.16,1359.82)">Falta</div>
<div class="t" style="color:#151515;letter-spacing:0.00px;-webkit-text-stroke:0.31px #151515;transform:matrix(0.3919,0.0343,-0.0336,0.3839,311.47,1378.34)">1 clase</div>
<div class="t" style="color:#151515;letter-spacing:0.00px;-webkit-text-stroke:0.27px #151515;transform:matrix(0.4868,0.0512,-0.0403,0.3832,333.41,1393.82)">media,</div>
<div class="t" style="color:#151515;letter-spacing:0.00px;-webkit-text-stroke:0.27px #151515;transform:matrix(0.4889,-0.0085,0.0067,0.3853,467.77,1203.90)">formación continua señorios</div>
<div class="t" style="color:#b3322a;letter-spacing:0.00px;-webkit-text-stroke:0.00px #b3322a;transform:matrix(0.4852,0.0000,0.0000,0.4094,514.91,1252.08)">señorialización sociedad</div>
<div class="t" style="color:#151515;letter-spacing:0.00px;-webkit-text-stroke:0.28px #151515;transform:matrix(0.4475,0.0000,0.0000,0.4050,504.71,1311.83)">SUR</div>
<div class="t" style="color:#151515;letter-spacing:0.00px;-webkit-text-stroke:0.33px #151515;transform:matrix(0.3600,0.0000,0.0000,0.3631,628.32,1307.45)">NORTE</div>
<div class="t" style="color:#151515;letter-spacing:0.00px;-webkit-text-stroke:0.30px #151515;transform:matrix(0.4061,0.0000,0.0000,0.3854,461.89,1341.40)">grandes propietarios</div>
<div class="t" style="color:#151515;letter-spacing:0.00px;-webkit-text-stroke:0.30px #151515;transform:matrix(0.4167,0.0000,0.0000,0.3854,647.77,1331.20)">campesino propietario</div>
<div class="t" style="color:#151515;letter-spacing:0.00px;-webkit-text-stroke:0.29px #151515;transform:matrix(0.4364,0.0000,0.0000,0.3854,491.49,1390.00)">poder e influencia</div>
<div class="t" style="color:#151515;letter-spacing:0.00px;-webkit-text-stroke:0.31px #151515;transform:matrix(0.4309,0.0000,0.0000,0.3372,660.61,1378.54)">libre pero</div>
<div class="t" style="color:#151515;letter-spacing:0.00px;-webkit-text-stroke:0.32px #151515;transform:matrix(0.4016,0.0000,0.0000,0.3372,658.20,1395.34)">vasallo del</div>
<div class="t" style="color:#151515;letter-spacing:0.00px;-webkit-text-stroke:0.33px #151515;transform:matrix(0.3889,0.0000,0.0000,0.3372,678.31,1412.24)">señor</div>
<div class="t" style="color:#151515;letter-spacing:0.00px;-webkit-text-stroke:0.32px #151515;transform:matrix(0.4035,0.0000,0.0000,0.3372,765.39,1361.64)">propiedad</div>
<div class="t" style="color:#151515;letter-spacing:0.00px;-webkit-text-stroke:0.36px #151515;transform:matrix(0.3307,0.0000,0.0000,0.3372,786.01,1384.54)">pequeña</div>
<div class="t" style="color:#151515;letter-spacing:0.00px;-webkit-text-stroke:0.36px #151515;transform:matrix(0.3723,0.0000,0.0000,0.2890,776.66,1400.67)">(casi x sobrevivir)</div>
<div class="t" style="color:#1f1f1f;letter-spacing:0.00px;-webkit-text-stroke:0.00px #1f1f1f;transform:matrix(0.6651,0.0000,0.0000,0.6667,646.97,1477.93)">Scanned with CamScanner</div>
<div class="t" style="color:#151515;letter-spacing:0.00px;-webkit-text-stroke:0.29px #151515;transform:matrix(0.4444,0.0000,0.0000,0.3929,984.61,1405.14)">7</div>
</body></html>
